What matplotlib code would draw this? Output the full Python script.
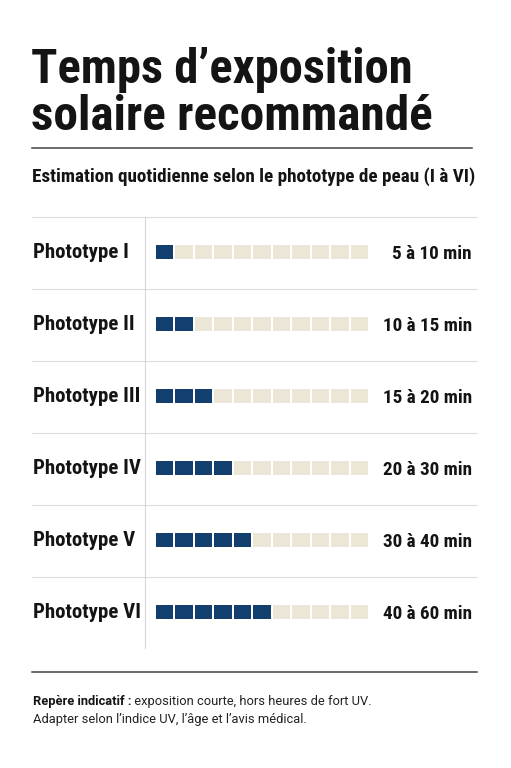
import os
import matplotlib
matplotlib.use("Agg")
import matplotlib.pyplot as plt
from matplotlib import font_manager as fm

# data
phototypes = ["Phototype I", "Phototype II", "Phototype III",
              "Phototype IV", "Phototype V", "Phototype VI"]
filled = [1, 2, 3, 4, 5, 6]
n_cells = 11
durations = ["5 à 10 min", "10 à 15 min", "15 à 20 min",
             "20 à 30 min", "30 à 40 min", "40 à 60 min"]

title_lines = ["Temps d\u2019exposition", "solaire recommandé"]
subtitle = "Estimation quotidienne selon le phototype de peau (I à VI)"
note_bold = "Repère indicatif :"
note_rest = " exposition courte, hors heures de fort UV."
note_line2 = "Adapter selon l\u2019indice UV, l\u2019âge et l\u2019avis médical."

navy = "#123f6e"
beige = "#ebe6d6"
ink = "#141414"


# look for a bold condensed face, fall back on Roboto bold
def condensed_bold():
    best = None
    prefs = ["roboto", "noto", "open", "liberation", "dejavu"]
    for f in fm.fontManager.ttflist:
        base = os.path.basename(f.fname).lower()
        if ("condensed" in base or "narrow" in base) and "bold" in base:
            if "semi" in base or "extra" in base or "italic" in base or "oblique" in base:
                continue
            rank = next((i for i, p in enumerate(prefs) if p in base), 9)
            if best is None or rank < best[0]:
                best = (rank, f.fname)
    if best:
        return lambda size: fm.FontProperties(fname=best[1], size=size)
    return lambda size: fm.FontProperties(family="Roboto", weight="bold", size=size)


cfont = condensed_bold()

fig = plt.figure(figsize=(5.11, 7.68), dpi=100)
bg = fig.add_axes([0, 0, 1, 1])
bg.set_xlim(0, 511)
bg.set_ylim(768, 0)
bg.axis("off")

# title + subtitle
bg.text(31, 83, title_lines[0], fontproperties=cfont(35), color=ink, va="baseline")
bg.text(31, 130, title_lines[1], fontproperties=cfont(35.5), color=ink, va="baseline")
bg.plot([32, 472], [148, 148], color="#444444", lw=1.1)
bg.text(32, 181.5, subtitle, fontproperties=cfont(13.8), color=ink, va="baseline")

# row grid
row_top, row_h = 217, 72
for i in range(len(phototypes)):
    bg.plot([32, 477], [row_top + i * row_h] * 2, color="#dcdcdc", lw=0.8)
bg.plot([145, 145], [row_top, row_top + row_h * len(phototypes) - 1], color="#d6d6d6", lw=0.8)

for i, (lab, dur) in enumerate(zip(phototypes, durations)):
    yb = row_top + i * row_h + 41
    bg.text(33, yb, lab, fontproperties=cfont(15), color=ink, va="baseline")
    bg.text(472, yb + 1, dur, fontproperties=cfont(13.8), color=ink, va="baseline", ha="right")

# squares
step = 19.5
ax = fig.add_axes([155.7 / 511, (768 - (row_top + row_h * 6)) / 768,
                   n_cells * step / 511, row_h * 6 / 768])
ax.set_xlim(0, n_cells)
ax.set_ylim(len(phototypes), 0)
ax.axis("off")
for i, k in enumerate(filled):
    for j in range(n_cells):
        ax.barh(i + 0.49, 17.7 / step, left=j, height=14.3 / row_h,
                align="center", color=navy if j < k else beige, lw=0)

# footer
bg.plot([32, 477], [672, 672], color="#444444", lw=1.1)
t1 = bg.text(33, 705, note_bold, family="Roboto", weight="bold", fontsize=9.3,
             color=ink, va="baseline")
bg.annotate(note_rest, xy=(1, 0), xycoords=t1, va="bottom", ha="left",
            family="Roboto", fontsize=9.3, color="#222222")
bg.text(33, 723, note_line2, family="Roboto", fontsize=9.3, color="#222222", va="baseline")

fig.savefig("out.png", dpi=100, facecolor="white")
